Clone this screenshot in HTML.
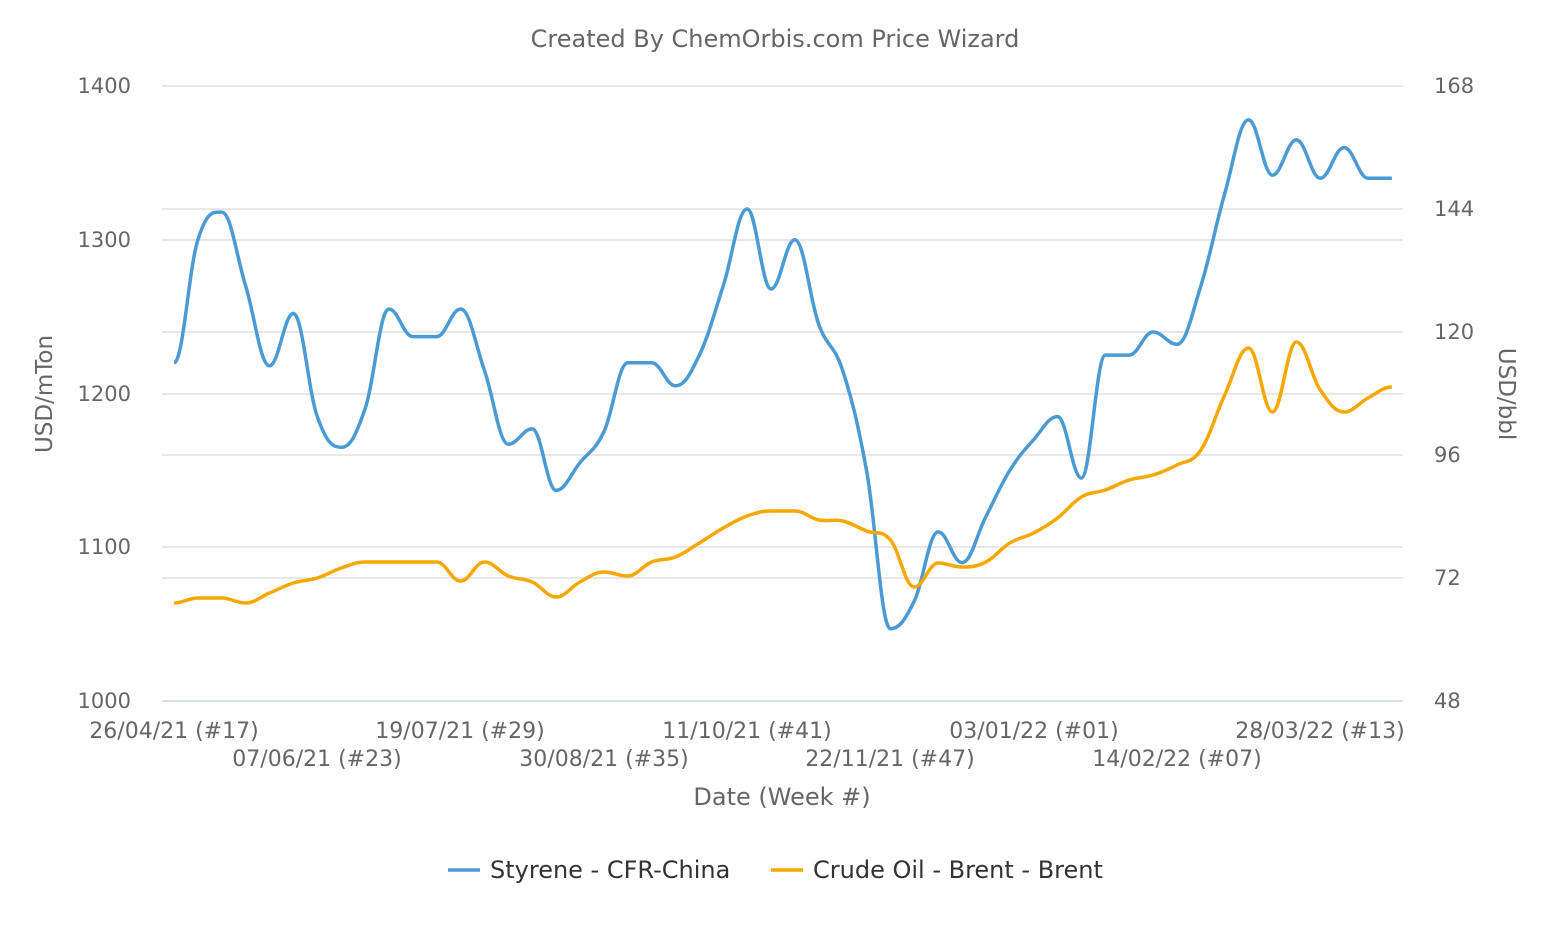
<!DOCTYPE html>
<html><head><meta charset="utf-8"><style>
html,body{margin:0;padding:0;background:#fff;}
svg text{font-family:"DejaVu Sans","Liberation Sans",sans-serif;fill:#666;}
</style></head><body>
<svg id="s" width="1552" height="930" xmlns="http://www.w3.org/2000/svg">
<text x="775" y="47" font-size="24" text-anchor="middle">Created By ChemOrbis.com Price Wizard</text>
<g stroke="#e0e0e0" stroke-width="1.5">
<line x1="162" x2="1403" y1="86" y2="86"/><line x1="162" x2="1403" y1="240" y2="240"/><line x1="162" x2="1403" y1="394" y2="394"/><line x1="162" x2="1403" y1="547" y2="547"/>
<line x1="162" x2="1403" y1="209" y2="209"/><line x1="162" x2="1403" y1="332" y2="332"/><line x1="162" x2="1403" y1="455" y2="455"/><line x1="162" x2="1403" y1="578" y2="578"/>
</g>
<line x1="162" x2="1403" y1="701" y2="701" stroke="#ccd6eb" stroke-width="1.5"/>
<g font-size="21" text-anchor="end">
<text x="131" y="93">1400</text><text x="131" y="247">1300</text><text x="131" y="401">1200</text><text x="131" y="554">1100</text><text x="131" y="708">1000</text>
</g>
<g font-size="21" text-anchor="start">
<text x="1434" y="93">168</text><text x="1434" y="216">144</text><text x="1434" y="339">120</text><text x="1434" y="462">96</text><text x="1434" y="585">72</text><text x="1434" y="708">48</text>
</g>
<text transform="translate(52,394) rotate(-90)" font-size="23" text-anchor="middle">USD/mTon</text>
<text transform="translate(1499,394) rotate(90)" font-size="23" text-anchor="middle">USD/bbl</text>
<g font-size="22" text-anchor="middle">
<text x="174" y="738">26/04/21 (#17)</text><text x="317" y="766">07/06/21 (#23)</text>
<text x="460" y="738">19/07/21 (#29)</text><text x="604" y="766">30/08/21 (#35)</text>
<text x="747" y="738">11/10/21 (#41)</text><text x="890" y="766">22/11/21 (#47)</text>
<text x="1034" y="738">03/01/22 (#01)</text><text x="1177" y="766">14/02/22 (#07)</text>
<text x="1320" y="738">28/03/22 (#13)</text>
</g>
<text x="782" y="805" font-size="24" text-anchor="middle">Date (Week #)</text>
<path id="p1" fill="none" stroke="#4a9ad4" stroke-width="3.5"/>
<path id="p2" fill="none" stroke="#f7a800" stroke-width="3.5"/>
<line x1="448" x2="480" y1="870" y2="870" stroke="#4a9ad4" stroke-width="3.5"/>
<text x="490" y="878" font-size="24" style="fill:#333">Styrene - CFR-China</text>
<line x1="771" x2="803" y1="870" y2="870" stroke="#f7a800" stroke-width="3.5"/>
<text x="813" y="878" font-size="24" style="fill:#333">Crude Oil - Brent - Brent</text>
</svg>
<script>
var st=[1220,1300,1318,1270,1218,1252,1185,1165,1190,1255,1237,1237,1255,1215,1167,1177,1137,1155,1175,1220,1220,1205,1225,1270,1320,1268,1300,1245,1215,1150,1047,1065,1110,1090,1120,1150,1170,1185,1145,1225,1225,1240,1232,1270,1330,1378,1342,1365,1340,1360,1340,1340];
var br=[603,598,598,603,593,583,578,568,562,562,562,562,581,562,576,582,597,582,572,576,562,557,543,528,516,511,511,520,521,531,540,587,563,567,562,543,533,518,497,490,480,475,465,450,395,348,412,342,390,412,398,387];
function path(ys){var n=ys.length,dx=23.88;var m=[];
for(var i=0;i<n;i++){if(i==0||i==n-1){m.push(0);continue;}var a=ys[i]-ys[i-1],b=ys[i+1]-ys[i];
if(a*b<=0)m.push(0);else m.push((ys[i+1]-ys[i-1])/(2*dx));}
var d="M174,"+ys[0];
for(var i=0;i<n-1;i++){var x0=174+dx*i,x1=x0+dx,k=dx/2.6;
d+=" C"+(x0+k)+","+(ys[i]+m[i]*k)+" "+(x1-k)+","+(ys[i+1]-m[i+1]*k)+" "+x1+","+ys[i+1];}return d;}
document.getElementById("p1").setAttribute("d",path(st.map(function(v){return 701-(v-1000)*1.5375})));
document.getElementById("p2").setAttribute("d",path(br));
</script>
</body></html>
